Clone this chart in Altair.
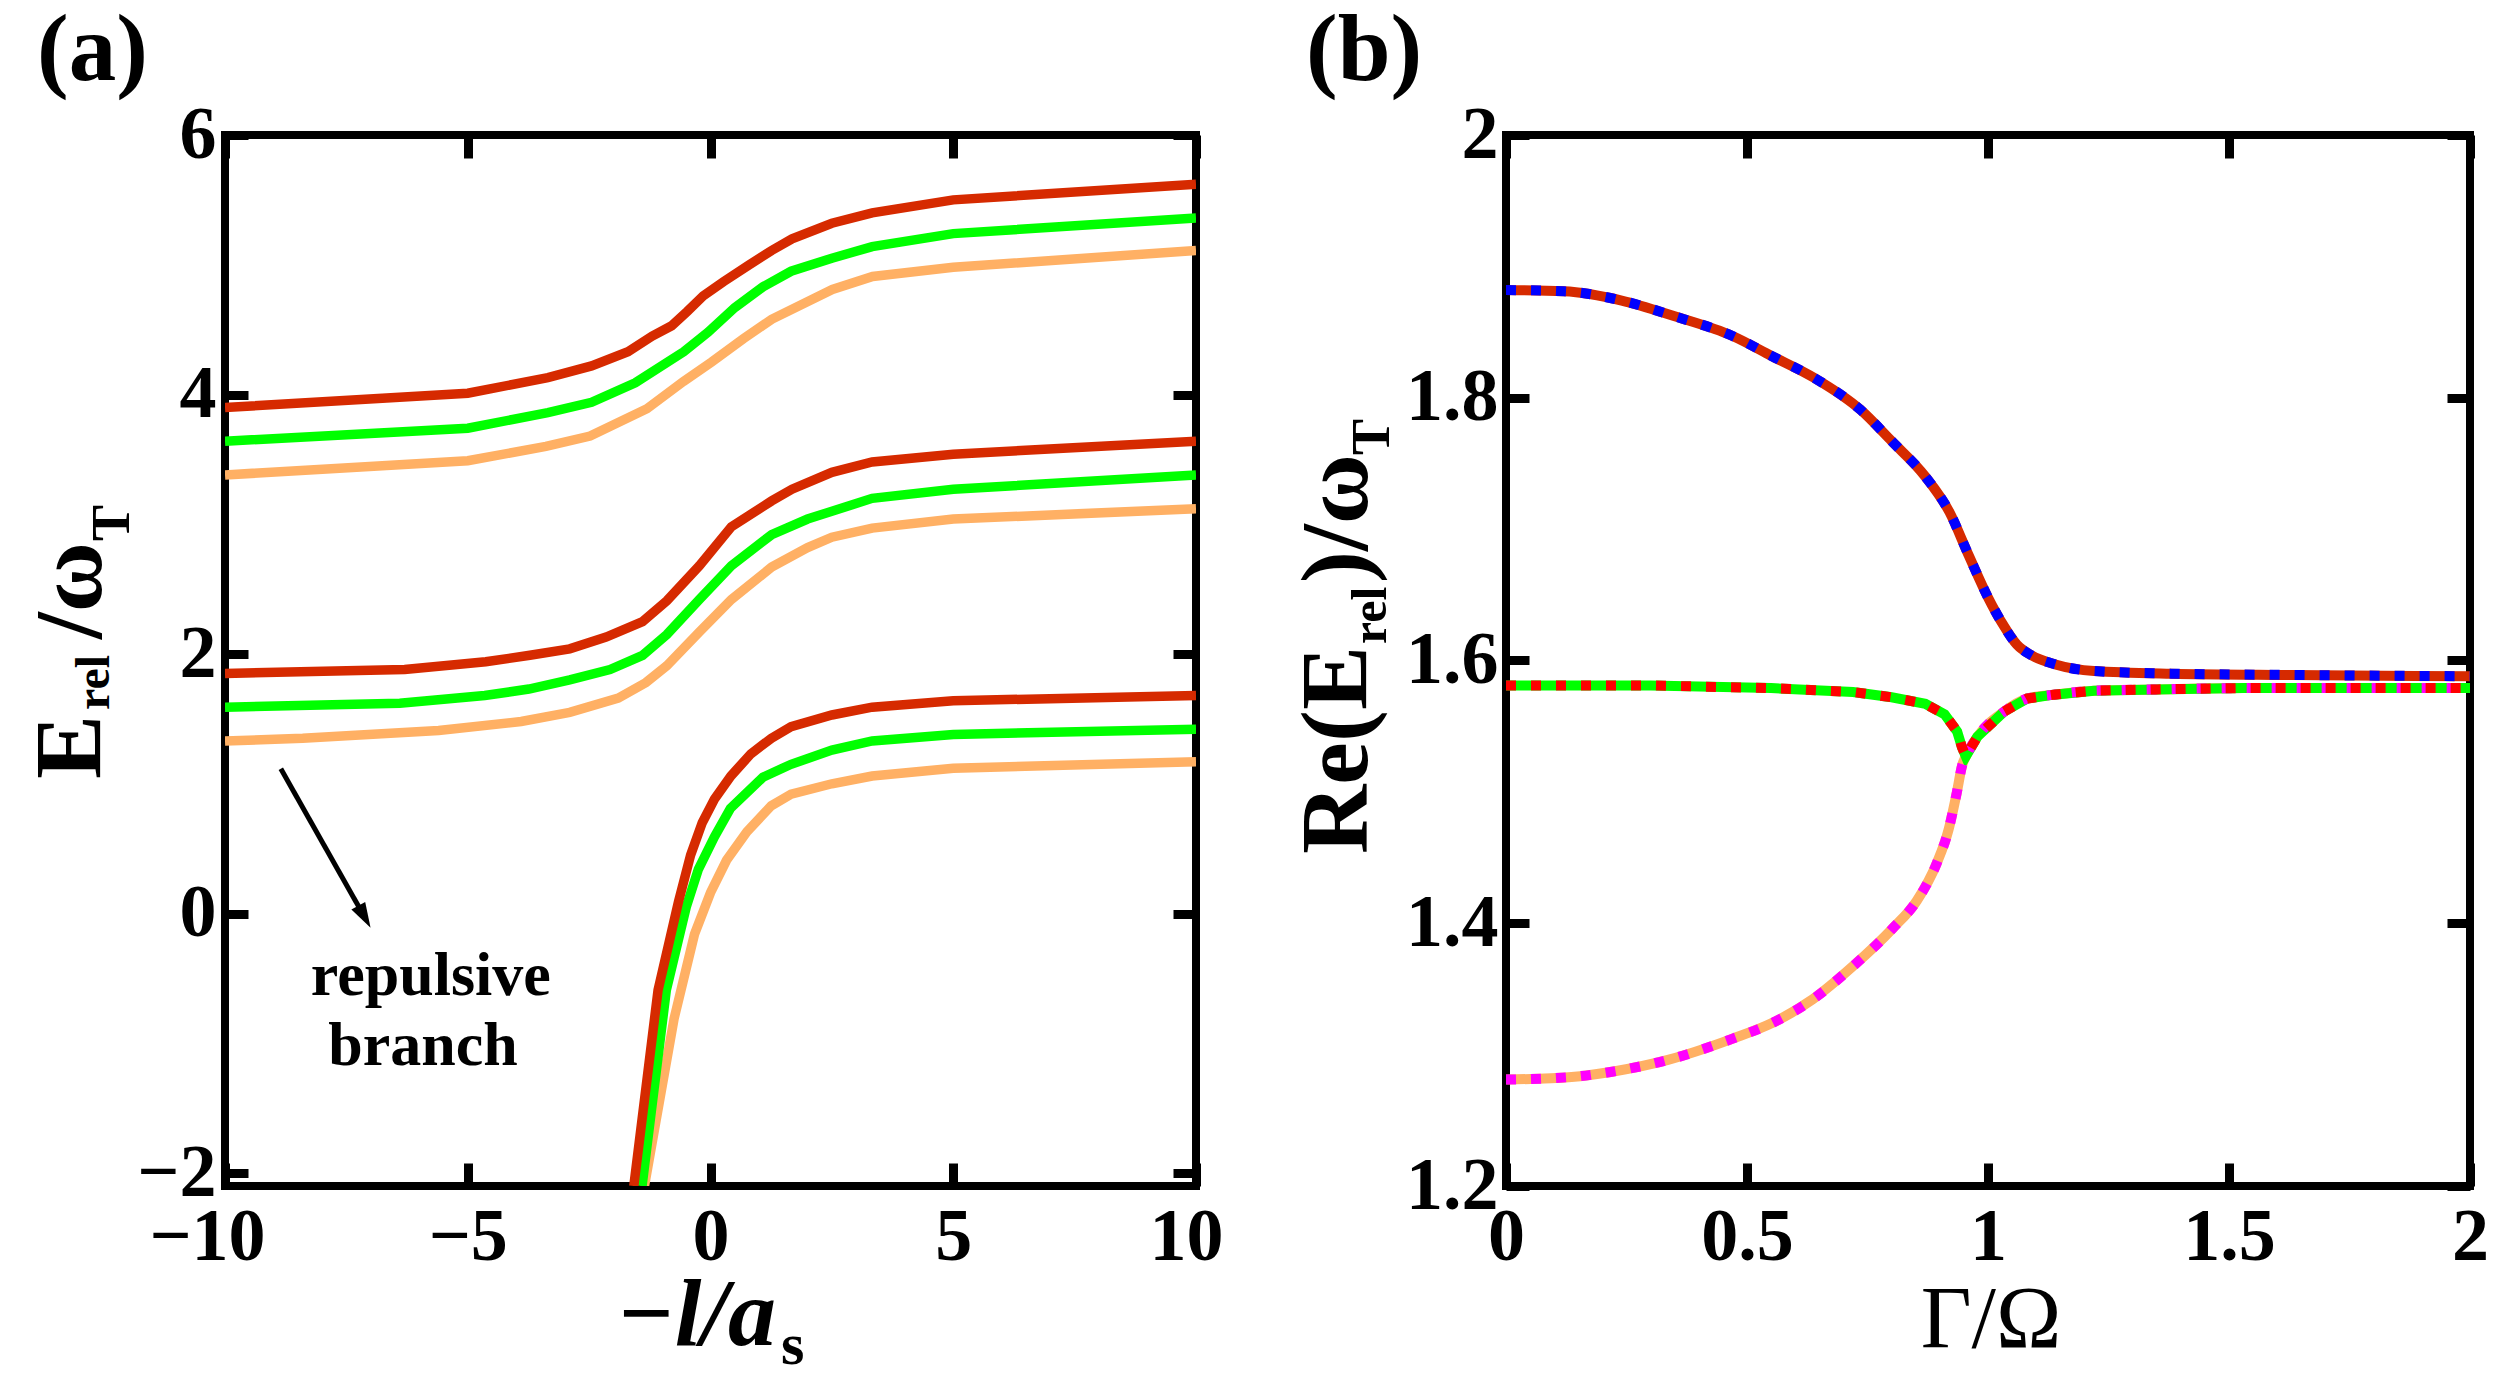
import altair as alt
import pandas as pd

SERIF = "Liberation Serif"

DARK_RED = "#d62a00"
GREEN = "#00ff00"
ORANGE = "#ffb064"
BLUE = "#0000ff"
RED = "#ff0000"
MAGENTA = "#ff00ff"

# ---------------- panel (a): E_rel/ω_T versus −l/a_s ----------------
A_X_DOMAIN = [-10, 10]
A_Y_DOMAIN = [-2.1, 6]
A_X_TICKS = [-10, -5, 0, 5, 10]
A_Y_TICKS = [-2, 0, 2, 4, 6]

# upper branch
A_UP_RED_X = [-10, -5, -3.35, -2.45, -1.7, -1.2, -0.8, -0.48, -0.15, 0.27, 0.8, 1.26, 1.68, 2.5, 3.33, 5, 10]
A_UP_RED_Y = [3.90, 4.01, 4.13, 4.22, 4.33, 4.45, 4.53, 4.64, 4.76, 4.87, 5.00, 5.11, 5.20, 5.32, 5.40, 5.50, 5.62]
A_UP_GREEN_X = [-10, -5, -3.35, -2.45, -1.55, -0.55, -0.05, 0.5, 1.08, 1.66, 2.5, 3.33, 5, 10]
A_UP_GREEN_Y = [3.64, 3.74, 3.86, 3.94, 4.09, 4.33, 4.48, 4.67, 4.83, 4.95, 5.05, 5.14, 5.24, 5.36]
A_UP_ORANGE_X = [-10, -5, -3.39, -2.48, -1.31, -0.56, 0.02, 0.68, 1.26, 2.51, 3.34, 5, 10]
A_UP_ORANGE_Y = [3.38, 3.49, 3.60, 3.68, 3.89, 4.10, 4.25, 4.43, 4.58, 4.81, 4.91, 4.98, 5.11]

# middle branch
A_MID_RED_X = [-10, -6.3, -4.63, -3.72, -2.9, -2.15, -1.4, -0.9, -0.23, 0.43, 1.26, 1.68, 2.5, 3.33, 5, 10]
A_MID_RED_Y = [1.85, 1.88, 1.94, 1.99, 2.04, 2.13, 2.25, 2.41, 2.68, 2.98, 3.18, 3.27, 3.40, 3.48, 3.54, 3.64]
A_MID_GREEN_X = [-10, -6.4, -4.65, -3.74, -2.9, -2.07, -1.4, -0.9, -0.23, 0.43, 1.26, 2.0, 3.33, 5, 10]
A_MID_GREEN_Y = [1.59, 1.62, 1.68, 1.73, 1.80, 1.88, 1.99, 2.15, 2.42, 2.68, 2.92, 3.04, 3.20, 3.27, 3.38]
A_MID_ORANGE_X = [-10, -8.4, -5.6, -3.9, -2.9, -1.9, -1.33, -0.9, -0.23, 0.43, 1.26, 2.0, 2.5, 3.33, 5, 10]
A_MID_ORANGE_Y = [1.33, 1.35, 1.41, 1.48, 1.55, 1.66, 1.78, 1.91, 2.17, 2.42, 2.67, 2.82, 2.90, 2.97, 3.04, 3.12]

# lower (repulsive) branch
A_LOW_RED_X = [-1.58, -1.08, -0.66, -0.41, -0.17, 0.08, 0.42, 0.83, 1.25, 1.66, 2.5, 3.33, 5, 10]
A_LOW_RED_Y = [-2.1, -0.59, 0.09, 0.45, 0.70, 0.88, 1.06, 1.23, 1.35, 1.44, 1.53, 1.59, 1.64, 1.68]
A_LOW_GREEN_X = [-1.41, -0.91, -0.5, -0.25, 0.08, 0.41, 1.08, 1.66, 2.5, 3.33, 5, 10]
A_LOW_GREEN_Y = [-2.1, -0.59, 0.05, 0.34, 0.59, 0.81, 1.05, 1.15, 1.26, 1.33, 1.38, 1.42]
A_LOW_ORANGE_X = [-1.36, -0.75, -0.33, 0.0, 0.33, 0.75, 1.25, 1.66, 2.5, 3.33, 5, 10]
A_LOW_ORANGE_Y = [-2.1, -0.81, -0.16, 0.16, 0.41, 0.63, 0.83, 0.92, 1.0, 1.06, 1.12, 1.17]

A_CURVES = [
    ("orange", "up", A_UP_ORANGE_X, A_UP_ORANGE_Y),
    ("green", "up", A_UP_GREEN_X, A_UP_GREEN_Y),
    ("red", "up", A_UP_RED_X, A_UP_RED_Y),
    ("orange", "mid", A_MID_ORANGE_X, A_MID_ORANGE_Y),
    ("green", "mid", A_MID_GREEN_X, A_MID_GREEN_Y),
    ("red", "mid", A_MID_RED_X, A_MID_RED_Y),
    ("orange", "low", A_LOW_ORANGE_X, A_LOW_ORANGE_Y),
    ("green", "low", A_LOW_GREEN_X, A_LOW_GREEN_Y),
    ("red", "low", A_LOW_RED_X, A_LOW_RED_Y),
]

# "repulsive branch" note and its arrow (data coordinates)
NOTE_X = [-5.76, -5.92]
NOTE_Y = [-0.48, -1.02]
NOTE_TEXT = ["repulsive", "branch"]
ARROW_TAIL = (-8.85, 1.115)
ARROW_HEAD = (-7.16, -0.004)

# ---------------- panel (b): Re(E_rel)/ω_T versus Γ/Ω ----------------
B_X_DOMAIN = [0, 2]
B_Y_DOMAIN = [1.2, 2]
B_X_TICKS = [0, 0.5, 1, 1.5, 2]
B_Y_TICKS = [1.2, 1.4, 1.6, 1.8, 2]

B_UP_G = [0, 0.12, 0.24, 0.35, 0.47, 0.55, 0.64, 0.735, 0.80, 0.87, 0.92, 0.96, 1.0, 1.03, 1.06, 1.09, 1.14, 1.22, 1.38, 1.63, 2.0]
B_UP_E = [1.882, 1.881, 1.874, 1.862, 1.847, 1.832, 1.815, 1.791, 1.767, 1.740, 1.713, 1.680, 1.648, 1.628, 1.612, 1.604, 1.597, 1.592, 1.590, 1.589, 1.588]

B_MID_G = [0, 0.30, 0.55, 0.72, 0.80, 0.87, 0.91, 0.936, 0.946]
B_MID_E = [1.581, 1.581, 1.579, 1.576, 1.572, 1.567, 1.559, 1.546, 1.534]

B_LOW_G = [0, 0.136, 0.22, 0.336, 0.469, 0.552, 0.636, 0.719, 0.802, 0.852, 0.894, 0.918, 0.935, 0.947]
B_LOW_E = [1.281, 1.283, 1.287, 1.296, 1.312, 1.324, 1.342, 1.367, 1.396, 1.417, 1.446, 1.471, 1.499, 1.521]

# common part of the two lower curves from the cusp onwards
B_JOIN_G = [0.954, 0.978, 1.033, 1.081, 1.137, 1.22, 1.35, 1.53, 2.0]
B_JOIN_E = [1.527, 1.542, 1.561, 1.571, 1.574, 1.577, 1.578, 1.579, 1.579]

TICK_LEN = 23
TICK_W = 9
LABEL_SIZE = 74
TITLE_SIZE = 96


def curve_frame(xs, ys):
    return pd.DataFrame({"x": xs, "y": ys, "i": list(range(len(xs)))})


def label_axis(orient, values, pad, fmt, offset=0):
    return alt.Axis(orient=orient, values=values, format=fmt, ticks=False, domain=False,
                    grid=False, title=None, labelFont=SERIF, labelFontSize=LABEL_SIZE,
                    labelFontWeight="bold", labelColor="black", labelPadding=pad,
                    labelFlush=False, labelOverlap=False, labelLimit=400, labelOffset=offset)


def tick_axis(orient, values):
    return alt.Axis(orient=orient, values=values, labels=False, domain=False, grid=False,
                    title=None, ticks=True, tickSize=TICK_LEN, tickWidth=TICK_W,
                    tickColor="black", offset=-TICK_LEN)


def tick_layers(xs, ys, x_ticks, y_ticks):
    src = pd.DataFrame({"x": [xs.domain[0]], "y": [ys.domain[0]]})
    bl = alt.Chart(src).mark_point(opacity=0).encode(
        x=alt.X("x:Q", scale=xs, axis=tick_axis("bottom", x_ticks)),
        y=alt.Y("y:Q", scale=ys, axis=tick_axis("left", y_ticks)),
    )
    tr = alt.Chart(src).mark_point(opacity=0).encode(
        x=alt.X("x:Q", scale=xs, axis=tick_axis("top", x_ticks)),
        y=alt.Y("y:Q", scale=ys, axis=tick_axis("right", y_ticks)),
    )
    return [bl, tr]


def text_layer(s, x, y, size, weight="bold", style="normal", align="left", angle=0):
    return alt.Chart(pd.DataFrame({"t": [s]})).mark_text(
        font=SERIF, fontSize=size, fontWeight=weight, fontStyle=style, align=align,
        baseline="alphabetic", angle=angle, color="black",
    ).encode(x=alt.value(x), y=alt.value(y), text="t:N")


# ---------------- build panel (a) ----------------
XA = alt.Scale(domain=A_X_DOMAIN, nice=False, zero=False)
YA = alt.Scale(domain=A_Y_DOMAIN, nice=False, zero=False)

rows = []
for colour, branch, xs, ys in A_CURVES:
    for i, (x, y) in enumerate(zip(xs, ys)):
        rows.append({"x": x, "y": y, "colour": colour, "line": colour + "-" + branch, "i": i})
df_a = pd.DataFrame(rows)

# the end labels of the lower axis sit a little left of their ticks
end_shift = {"condition": [{"test": "datum.value == -10", "value": -18},
                           {"test": "datum.value == 10", "value": -10}], "value": 0}

lines_a = alt.Chart(df_a).mark_line(strokeWidth=9.5, clip=True).encode(
    x=alt.X("x:Q", scale=XA, axis=label_axis("bottom", A_X_TICKS, 15, "d", end_shift)),
    y=alt.Y("y:Q", scale=YA, axis=label_axis("left", A_Y_TICKS, 9, "d")),
    color=alt.Color("colour:N", scale=alt.Scale(domain=["red", "green", "orange"],
                                                range=[DARK_RED, GREEN, ORANGE]), legend=None),
    detail="line:N",
    order="i:Q",
)

arrow_df = pd.DataFrame({"x": [ARROW_TAIL[0]], "y": [ARROW_TAIL[1]],
                         "x2": [ARROW_HEAD[0]], "y2": [ARROW_HEAD[1]]})
arrow_shaft = alt.Chart(arrow_df).mark_rule(strokeWidth=5, color="black").encode(
    x=alt.X("x:Q", scale=XA, axis=None), y=alt.Y("y:Q", scale=YA, axis=None),
    x2="x2:Q", y2="y2:Q",
)
arrow_tip = alt.Chart(pd.DataFrame({"x": [ARROW_HEAD[0]], "y": [ARROW_HEAD[1]]})).mark_point(
    shape="M0,-1L-0.5,0.6L0.5,0.6Z", size=1000, filled=True, opacity=1, color="black", angle=151,
).encode(x=alt.X("x:Q", scale=XA, axis=None), y=alt.Y("y:Q", scale=YA, axis=None))

note = alt.Chart(pd.DataFrame({"x": NOTE_X, "y": NOTE_Y, "t": NOTE_TEXT})).mark_text(
    font=SERIF, fontSize=62, fontWeight="bold", align="center", baseline="middle", color="black",
).encode(x=alt.X("x:Q", scale=XA, axis=None), y=alt.Y("y:Q", scale=YA, axis=None), text="t:N")

# white spacer fixing the left edge of the page
spacer = alt.Chart(pd.DataFrame({"t": [""]})).mark_rule(color="white", strokeWidth=1).encode(
    x=alt.value(-220.5), x2=alt.value(-218), y=alt.value(300)
)

panel_a = alt.layer(
    lines_a, *tick_layers(XA, YA, A_X_TICKS, A_Y_TICKS),
    arrow_shaft, arrow_tip, note, spacer,
    text_layer("(a)", -188, -55, 95),
    text_layer("E", -124, 644, TITLE_SIZE, angle=270),
    text_layer("rel", -116, 575, 48, angle=270),
    text_layer("/ω", -124, 504, TITLE_SIZE, angle=270),
    text_layer("T", -96, 406, 54, angle=270),
    text_layer("−l/a", 551, 1210, TITLE_SIZE, style="italic", align="right"),
    text_layer("s", 556, 1229, 60),
).resolve_axis(x="independent", y="independent").properties(width=971, height=1051)

# ---------------- build panel (b) ----------------
XB = alt.Scale(domain=B_X_DOMAIN, nice=False, zero=False)
YB = alt.Scale(domain=B_Y_DOMAIN, nice=False, zero=False)

df_up = curve_frame(B_UP_G, B_UP_E)
df_mid = curve_frame(B_MID_G + B_JOIN_G, B_MID_E + B_JOIN_E)
df_low = curve_frame(B_LOW_G + B_JOIN_G, B_LOW_E + B_JOIN_E)


def curve(df, colour, width, dash=None, main=False, interp="linear"):
    kw = dict(strokeWidth=width, color=colour, clip=True, interpolate=interp)
    if dash:
        kw["strokeDash"] = dash
    if main:
        xa = alt.X("x:Q", scale=XB, axis=label_axis("bottom", B_X_TICKS, 15, ".1~f"))
        ya = alt.Y("y:Q", scale=YB, axis=label_axis("left", B_Y_TICKS, 8, ".1~f"))
    else:
        xa = alt.X("x:Q", scale=XB, axis=None)
        ya = alt.Y("y:Q", scale=YB, axis=None)
    return alt.Chart(df).mark_line(**kw).encode(x=xa, y=ya, order="i:Q")


panel_b = alt.layer(
    curve(df_low, ORANGE, 10, main=True, interp="monotone"),
    curve(df_mid, GREEN, 10),
    curve(df_up, DARK_RED, 10, interp="monotone"),
    curve(df_low, MAGENTA, 10, dash=[10, 15], interp="monotone"),
    curve(df_mid, RED, 10, dash=[10, 15]),
    curve(df_up, BLUE, 10, dash=[10, 15], interp="monotone"),
    *tick_layers(XB, YB, B_X_TICKS, B_Y_TICKS),
    text_layer("(b)", -200, -55, 95),
    text_layer("Re(E", -139, 719, TITLE_SIZE, angle=270),
    text_layer("rel", -120, 509, 50, angle=270),
    text_layer(")/ω", -139, 448, TITLE_SIZE, angle=270),
    text_layer("T", -117, 320, 54, angle=270),
    text_layer("Γ/Ω", 485, 1212, 88, weight="normal", align="center"),
).resolve_axis(x="independent", y="independent").properties(width=964, height=1051)

chart = alt.hconcat(panel_a, panel_b, spacing=310, bounds="flush").properties(
    padding={"left": 0, "top": 0, "right": 5, "bottom": 0},
    background="white",
).configure_view(stroke="black", strokeWidth=8)

chart.save("out.html", embed_options={"renderer": "svg", "actions": False})
